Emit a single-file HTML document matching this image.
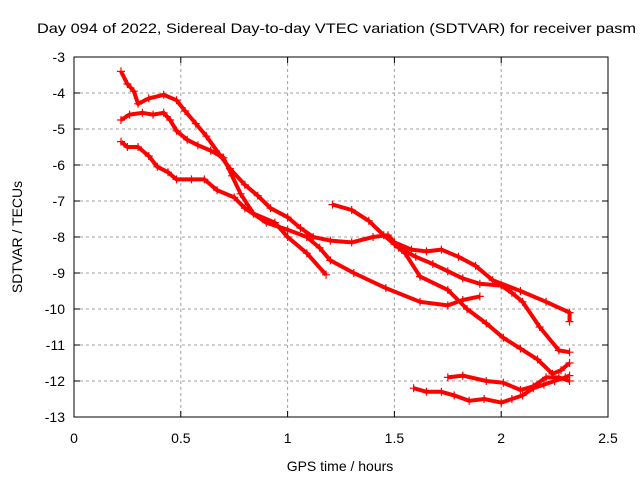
<!DOCTYPE html>
<html><head><meta charset="utf-8"><style>
body{margin:0;background:#fff}
svg{display:block;font-family:"Liberation Sans",sans-serif}
</style></head><body>
<svg id="chart" width="640" height="480">
<rect width="640" height="480" fill="#fff"/>
<text x="37" y="33" font-size="14" textLength="599" lengthAdjust="spacingAndGlyphs">Day 094 of 2022, Sidereal Day-to-day VTEC variation (SDTVAR) for receiver pasm</text>
<g id="grid"></g>
<g id="ticks"></g>
<g id="series"></g>
<rect x="74" y="57" width="534" height="360" fill="none" stroke="#000" stroke-width="1"/>
<text x="340" y="471" font-size="14" text-anchor="middle">GPS time / hours</text>
<text x="22" y="237" font-size="14" text-anchor="middle" transform="rotate(-90 22 237)">SDTVAR / TECUs</text>
</svg>
<script>
const xTicks=[0,0.5,1,1.5,2,2.5];
const xTickLabels=["0","0.5","1","1.5","2","2.5"];
const yTicks=[-3,-4,-5,-6,-7,-8,-9,-10,-11,-12,-13];
const yTickLabels=["-3","-4","-5","-6","-7","-8","-9","-10","-11","-12","-13"];
const s1x=[0.22,0.25,0.28,0.3,0.35,0.42,0.48,0.52,0.57,0.62,0.68,0.73,0.8,0.86,0.92,1.0,1.06,1.12,1.2,1.3,1.4,1.47,1.5,1.58,1.65,1.72,1.8,1.88,1.96,2.09,2.21,2.32,2.32];
const s1y=[-3.4,-3.75,-3.95,-4.3,-4.15,-4.05,-4.2,-4.5,-4.85,-5.2,-5.7,-6.1,-6.55,-6.85,-7.2,-7.45,-7.75,-8.0,-8.1,-8.15,-8.0,-7.95,-8.15,-8.35,-8.4,-8.35,-8.55,-8.8,-9.2,-9.5,-9.8,-10.1,-10.35];
const s2x=[0.22,0.26,0.32,0.37,0.42,0.45,0.48,0.53,0.58,0.64,0.7,0.74,0.78,0.84,0.94,1.0,1.09,1.18];
const s2y=[-4.75,-4.6,-4.55,-4.6,-4.55,-4.75,-5.05,-5.3,-5.45,-5.6,-5.8,-6.3,-6.8,-7.35,-7.6,-8.0,-8.45,-9.05];
const s3x=[0.22,0.25,0.3,0.35,0.39,0.44,0.48,0.55,0.61,0.67,0.75,0.8,0.9,1.0,1.09,1.15,1.2,1.31,1.46,1.62,1.75,1.82,1.9];
const s3y=[-5.35,-5.5,-5.5,-5.75,-6.05,-6.2,-6.4,-6.4,-6.4,-6.7,-6.9,-7.2,-7.6,-7.8,-8.0,-8.3,-8.65,-9.0,-9.42,-9.8,-9.9,-9.75,-9.65];
const s4x=[1.21,1.3,1.38,1.45,1.5,1.55,1.62,1.75,1.84,1.93,2.01,2.09,2.17,2.24,2.28,2.32];
const s4y=[-7.1,-7.25,-7.55,-7.95,-8.2,-8.45,-9.1,-9.47,-10.0,-10.4,-10.8,-11.1,-11.4,-11.8,-11.7,-11.5];
const s5x=[1.52,1.6,1.68,1.75,1.82,1.9,2.0,2.05,2.1,2.18,2.27,2.32];
const s5y=[-8.3,-8.55,-8.75,-8.95,-9.15,-9.3,-9.35,-9.55,-9.8,-10.5,-11.15,-11.2];
const s6x=[1.59,1.65,1.72,1.78,1.85,1.92,2.0,2.05,2.1,2.15,2.2,2.25,2.3,2.32];
const s6y=[-12.2,-12.3,-12.3,-12.4,-12.55,-12.5,-12.6,-12.5,-12.4,-12.2,-12.1,-12.0,-11.9,-11.85];
const s7x=[1.75,1.82,1.93,2.01,2.09,2.15,2.21,2.27,2.32];
const s7y=[-11.9,-11.85,-12.0,-12.05,-12.25,-12.15,-11.9,-11.9,-12.0];
const NS="http://www.w3.org/2000/svg";
const L=74,R=608,T=57,B=417;
function xs(v){return L+(v-0)/(2.5-0)*(R-L);}
function ys(v){return T+(-3-v)/10*(B-T);}
function mk(tag,attrs,parent){const e=document.createElementNS(NS,tag);for(const k in attrs)e.setAttribute(k,attrs[k]);parent.appendChild(e);return e;}
const grid=document.getElementById('grid'),ticks=document.getElementById('ticks'),ser=document.getElementById('series');
xTicks.forEach((v,i)=>{
  const x=xs(v);
  if(i>0&&i<xTicks.length-1){const g=mk('line',{x1:x,y1:T,x2:x,y2:B,stroke:'#a0a0a0','stroke-dasharray':'3,3'},grid);
  
  }
  mk('line',{x1:x,y1:B,x2:x,y2:B-6,stroke:'#000'},ticks);
  mk('line',{x1:x,y1:T,x2:x,y2:T+6,stroke:'#000'},ticks);
  const t=mk('text',{x:x,y:B+26,'font-size':14,'text-anchor':'middle'},ticks);t.textContent=xTickLabels[i];
  
  
});
yTicks.forEach((v,i)=>{
  const y=ys(v);
  if(i>0&&i<yTicks.length-1){const g=mk('line',{x1:L,y1:y,x2:R,y2:y,stroke:'#a0a0a0','stroke-dasharray':'3,3'},grid);
  
  }
  mk('line',{x1:L,y1:y,x2:L+6,y2:y,stroke:'#000'},ticks);
  mk('line',{x1:R,y1:y,x2:R-6,y2:y,stroke:'#000'},ticks);
  const t=mk('text',{x:L-9,y:y+5,'font-size':14,'text-anchor':'end'},ticks);t.textContent=yTickLabels[i];
  
  
});
const all=[[s1x,s1y],[s2x,s2y],[s3x,s3y],[s4x,s4y],[s5x,s5y],[s6x,s6y],[s7x,s7y]];
all.forEach((s,si)=>{
  const pts=s[0].map((x,i)=>xs(x)+','+ys(s[1][i])).join(' ');
  const pl=mk('polyline',{points:pts,fill:'none',stroke:'#ff0000','stroke-width':4,'stroke-linejoin':'round'},ser);
  
  
  s[0].forEach((x,i)=>{
    const px=xs(x),py=ys(s[1][i]);
    const p=mk('path',{d:`M${px-4},${py}H${px+4}M${px},${py-4}V${py+4}`,stroke:'#ff0000','stroke-width':1.2},ser);
    
    
  });
});
</script>
</body></html>
